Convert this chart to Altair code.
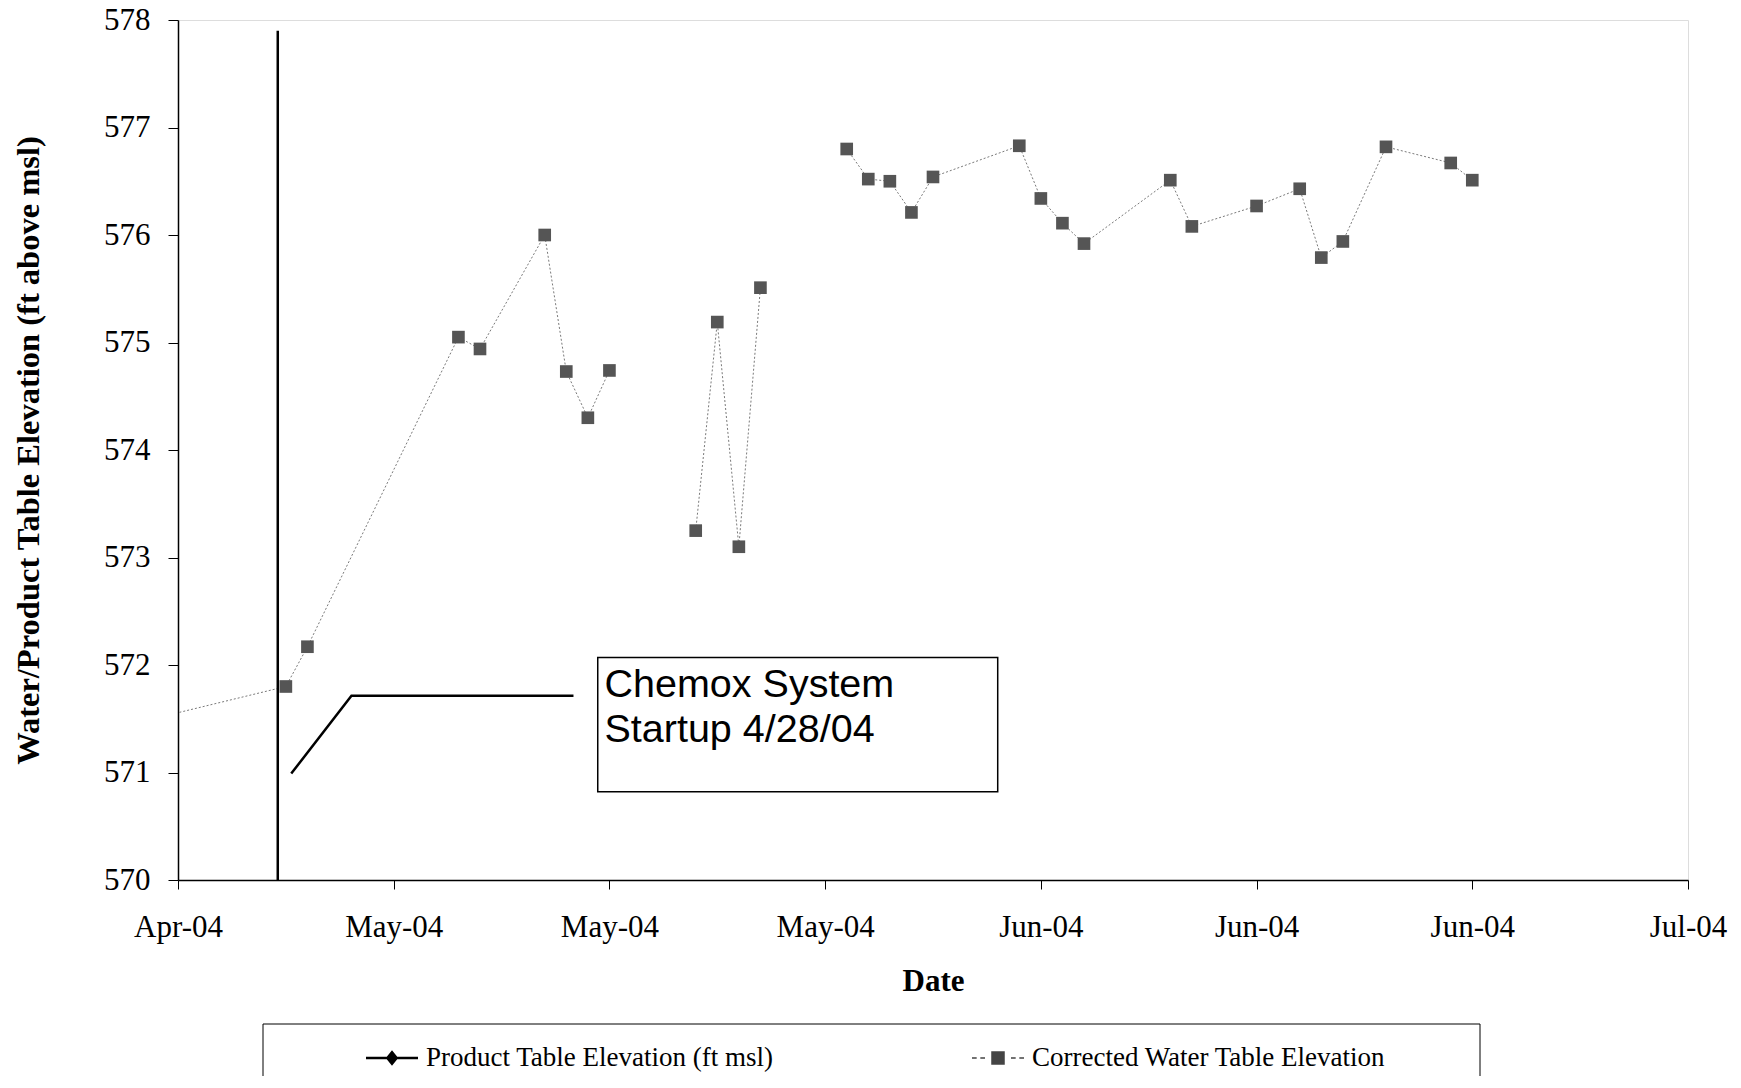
import altair as alt
import pandas as pd

# ---------------- data ----------------
dates = ["2004-04-20", "2004-04-28", "2004-04-29", "2004-05-06", "2004-05-07",
         "2004-05-10", "2004-05-11", "2004-05-12", "2004-05-13",
         "2004-05-17", "2004-05-18", "2004-05-19", "2004-05-20",
         "2004-05-24", "2004-05-25", "2004-05-26", "2004-05-27", "2004-05-28",
         "2004-06-01", "2004-06-02", "2004-06-03", "2004-06-04",
         "2004-06-08", "2004-06-09", "2004-06-12", "2004-06-14", "2004-06-15",
         "2004-06-16", "2004-06-18", "2004-06-21", "2004-06-22"]
water = [571.41, 571.80, 572.17, 575.05, 574.94,
         576.00, 574.73, 574.30, 574.74,
         573.25, 575.19, 573.10, 575.51,
         576.80, 576.52, 576.50, 576.21, 576.54,
         576.83, 576.34, 576.11, 575.92,
         576.51, 576.08, 576.27, 576.43, 575.79,
         575.94, 576.82, 576.67, 576.51]
segment = [1] * 9 + [2] * 4 + [3] * 18

series_names = ["Product Table Elevation (ft msl)", "Corrected Water Table Elevation"]
x_ticks = ["2004-04-23", "2004-05-03", "2004-05-13", "2004-05-23",
           "2004-06-02", "2004-06-12", "2004-06-22", "2004-07-02"]
y_ticks = [570, 571, 572, 573, 574, 575, 576, 577, 578]

# annotation (drawn shapes in the original), in data coordinates
startup_x = ["2004-04-27T15:00:00Z"]
startup_y = [570.0]
startup_y2 = [577.9]
callout_x = ["2004-04-28T06:00:00Z", "2004-05-01T01:00:00Z", "2004-05-11T08:00:00Z"]
callout_y = [570.99, 571.715, 571.715]
box_x = ["2004-05-12T11:00:00Z"]
box_x2 = ["2004-05-31T00:00:00Z"]
box_y = [570.82]
box_y2 = [572.07]
note_lines = ["Chemox System", "Startup 4/28/04"]
note_x = ["2004-05-12T18:30:00Z", "2004-05-12T18:30:00Z"]
note_y = [571.70, 571.28]

# ---------------- helpers ----------------
def dt(s):
    y, m, d = [int(v) for v in s.split("-")]
    return alt.DateTime(year=y, month=m, date=d, utc=True)

SERIF = "Liberation Serif"
x_scale = alt.Scale(type="utc", domain=[dt(x_ticks[0]), dt(x_ticks[-1])])
y_scale = alt.Scale(domain=[570, 578], zero=False, nice=False)

x_axis = alt.Axis(values=[dt(t) for t in x_ticks], format="%b-%y", title="Date",
                  labelFlush=False, labelOverlap=False, grid=False,
                  labelFont=SERIF, labelFontSize=31, labelColor="black",
                  titleFont=SERIF, titleFontSize=31, titleFontWeight="bold", titleColor="black",
                  tickSize=9, tickColor="black", domainColor="black", domainWidth=1.5,
                  labelPadding=23, titlePadding=24)
y_axis = alt.Axis(values=y_ticks, title="Water/Product Table Elevation (ft above msl)",
                  grid=False, labelFont=SERIF, labelFontSize=31, labelColor="black",
                  titleFont=SERIF, titleFontSize=32.5, titleFontWeight="bold", titleColor="black",
                  tickSize=10, tickColor="black", domainColor="black", domainWidth=1.5,
                  labelPadding=18, titlePadding=58)

X = alt.X("date:T", scale=x_scale, axis=x_axis)
Y = alt.Y("value:Q", scale=y_scale, axis=y_axis)

df = pd.DataFrame({"date": dates, "value": water, "segment": segment})

line = alt.Chart(df).mark_line(clip=True, color="#7a7a7a", strokeWidth=1,
                               strokeDash=[2, 2]).encode(x=X, y=Y, detail="segment:N")
points = alt.Chart(df).mark_point(clip=True, shape="square", filled=True, size=160,
                                  color="#555555", opacity=1).encode(x=X, y=Y)

# startup vertical line
startup = alt.Chart(pd.DataFrame({"date": startup_x, "value": startup_y, "value2": startup_y2})
                    ).mark_rule(color="black", strokeWidth=2.5).encode(
    x=X, y=Y, y2="value2:Q")

# callout line
callout = alt.Chart(pd.DataFrame({"date": callout_x, "value": callout_y, "o": [0, 1, 2]})
                    ).mark_line(color="black", strokeWidth=2.5).encode(
    x=X, y=Y, order="o:Q")

# annotation box and text
box = alt.Chart(pd.DataFrame({"date": box_x, "date2": box_x2, "value": box_y, "value2": box_y2})
                ).mark_rect(fill="white", stroke="black", strokeWidth=1.5).encode(
    x=X, x2="date2:T", y=Y, y2="value2:Q")
note = alt.Chart(pd.DataFrame({"date": note_x, "value": note_y, "text": note_lines})
                 ).mark_text(align="left", baseline="alphabetic", font="Liberation Sans",
                             fontSize=39.5, color="black").encode(x=X, y=Y, text="text:N")

# legend (entries come from the scale domain; the carrier points are clipped away)
P1 = "M-1,-0.05H1V0.05H-1Z M0,-0.3L0.24,0L0,0.3L-0.24,0Z"
P2 = ("M-1,-0.025H-0.82V0.025H-1Z M-0.68,-0.025H-0.5V0.025H-0.68Z "
      "M-0.26,-0.26H0.26V0.26H-0.26Z M0.5,-0.025H0.68V0.025H0.5Z M0.82,-0.025H1V0.025H0.82Z")
legend = alt.Legend(orient="none", legendX=188, legendY=1012, direction="horizontal",
                    title=None, labelFont=SERIF, labelFontSize=27, labelColor="black",
                    labelLimit=900, symbolSize=2704, symbolStrokeWidth=0, symbolOpacity=1,
                    labelOffset=8, columnPadding=198, padding=0)
leg_df = pd.DataFrame({"date": ["2004-05-01", "2004-05-02"], "value": [560.0, 560.0],
                       "series": series_names})
leg = alt.Chart(leg_df).mark_point(clip=True, filled=True, opacity=1).encode(
    x=X, y=Y,
    color=alt.Color("series:N", scale=alt.Scale(domain=series_names, range=["black", "#444444"]),
                    legend=legend),
    shape=alt.Shape("series:N", scale=alt.Scale(domain=series_names, range=[P1, P2]),
                    legend=legend))

frame = alt.Chart(pd.DataFrame({"a": [0]})).mark_rect(fill="transparent", stroke="black",
                                                       strokeWidth=1).encode(
    x=alt.value(85), x2=alt.value(1302), y=alt.value(1004), y2=alt.value(1120))

chart = alt.layer(line, points, startup, callout, box, note, leg, frame).properties(
    width=1510, height=860,
    padding={"left": 170, "top": 12, "right": 40, "bottom": 196},
    autosize=alt.AutoSizeParams(type="none"),
).configure_view(stroke="#c8c8c8", strokeWidth=1, strokeDash=[2, 4]
).configure(background="white")

chart.save("out.html", embed_options={"renderer": "svg", "actions": False})
